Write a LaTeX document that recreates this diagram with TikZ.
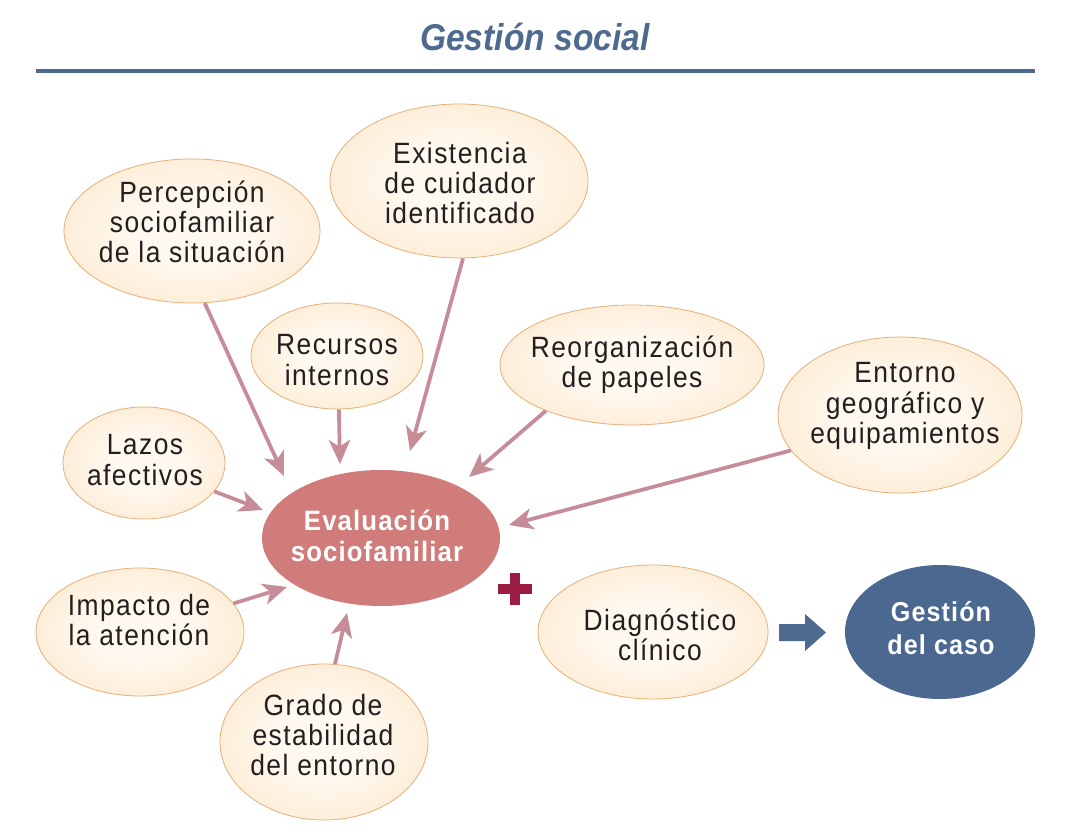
\documentclass[tikz,border=0pt]{standalone}
\usepackage{fontspec}
\setmainfont{Liberation Sans}
\newfontfamily\bodyfont{Liberation Sans}[FakeStretch=0.9,LetterSpace=5]
\newfontfamily\boldbody{Liberation Sans}[FakeStretch=0.92,LetterSpace=4]
\newfontfamily\titlefont{Liberation Sans}[FakeStretch=0.9]
\usetikzlibrary{shapes.geometric,arrows.meta}
\definecolor{titleblue}{HTML}{4F6A8F}
\definecolor{peachin}{HTML}{FFF8EE}
\definecolor{peachmid}{HTML}{FCE9CF}
\definecolor{peachout}{HTML}{F9D6A6}
\definecolor{peachline}{HTML}{E6B078}
\definecolor{evalred}{HTML}{CF7C7B}
\definecolor{casoblue}{HTML}{4A6890}
\definecolor{arrowpink}{HTML}{C68C98}
\definecolor{plusred}{HTML}{9C1C43}
\definecolor{textdark}{HTML}{231F20}
\pgfdeclareradialshading{bubshade}{\pgfpoint{0bp}{0bp}}{color(0bp)=(peachin); color(12bp)=(peachin); color(32bp)=(peachmid); color(50bp)=(peachout); color(75bp)=(peachout)}
\begin{document}
\begin{tikzpicture}[x=0.75pt,y=-0.75pt,
  bubble/.style={ellipse, draw=peachline, line width=0.6pt, shading=bubshade, inner sep=0pt},
  keybubble/.style={ellipse, draw=none, inner sep=0pt},
  btext/.style={align=center, text=textdark, inner sep=0pt, font=\bodyfont\fontsize{22}{22.6}\selectfont},
  ktext/.style={align=center, text=white, inner sep=0pt, font=\boldbody\bfseries\fontsize{21}{23.5}\selectfont},
  conn/.style={draw=arrowpink, line width=2.8pt,
    -{Stealth[length=18pt, width=16pt, inset=5pt]}},
  sz/.style n args={2}{minimum width=#1pt, minimum height=#2pt}
]
\fill[white] (0,0) rectangle (1066,837);
\useasboundingbox (0,0) rectangle (1066,837);

% title
\node[text=titleblue, font=\titlefont\bfseries\itshape\fontsize{28}{30}\selectfont] (title) at (535,37) {Gestión social};
\draw[titleblue, line width=3pt] (36,71) -- (1035,71);

% bubbles
\node[bubble, sz={192}{108}] (perc) at (192,231) {};
\node[bubble, sz={193.5}{115.5}] (exist) at (459,181) {};
\node[bubble, sz={129}{79.5}] (recur) at (337,356) {};
\node[bubble, sz={198}{90}] (reorg) at (632,365) {};
\node[bubble, sz={183}{117}] (entor) at (900,415) {};
\node[bubble, sz={121.5}{84}] (lazos) at (144,463) {};
\node[bubble, sz={156}{96}] (impac) at (140,632) {};
\node[bubble, sz={156}{117}] (grado) at (324,742) {};
\node[bubble, sz={172.5}{100.5}] (diag) at (653,632) {};
\node[keybubble, fill=evalred, sz={178.5}{102}] (eval) at (381,538) {};
\node[keybubble, fill=casoblue, sz={142.5}{100.5}] (caso) at (940,632) {};

% texts
\node[btext] (percT) at (192,222) {Percepción\\sociofamiliar\\de la situación};
\node[btext] (existT) at (460,183) {Existencia\\de cuidador\\identificado};
\node[btext] (recurT) at (337,360) {Recursos\\internos};
\node[btext] (reorgT) at (632,365) {Reorganización\\de papeles};
\node[btext] (entorT) at (905,406) {Entorno\\geográfico y\\equipamientos};
\node[btext] (lazosT) at (145,460) {Lazos\\afectivos};
\node[btext] (impacT) at (139,620) {Impacto de\\la atención};
\node[btext] (gradoT) at (323,735) {Grado de\\estabilidad\\del entorno};
\node[btext] (diagT) at (660,635) {Diagnóstico\\clínico};
\node[ktext] (evalT) at (377,536) {Evaluación\\sociofamiliar};
\node[ktext, font=\boldbody\bfseries\fontsize{20.5}{24.5}\selectfont] (casoT) at (941,628) {Gestión\\del caso};

% arrow tips
\coordinate (tA) at (284,476);
\coordinate (tB) at (410,451);
\coordinate (tC) at (340,464);
\coordinate (tD) at (469,477);
\coordinate (tE) at (509,525);
\coordinate (tF) at (263,510);
\coordinate (tG) at (287,587);
\coordinate (tH) at (347,613);

\draw[conn] (perc.-80) -- (tA);
\draw[conn] (exist.-87) -- (tB);
\draw[conn] (recur.-88) -- (tC);
\draw[conn] (reorg.-152) -- (tD);
\draw[conn] (entor.-162) -- (tE);
\draw[conn] (lazos.-22) -- (tF);
\draw[conn] (impac.17) -- (tG);
\draw[conn] (grado.82) -- (tH);

% plus sign
\fill[plusred] (498,584) rectangle (532,594);
\fill[plusred] (510,573) rectangle (520,605);

% block arrow
\fill[titleblue] (779,624) -- (805,624) -- (805,614) -- (826,632.5) -- (805,651) -- (805,641) -- (779,641) -- cycle;
\end{tikzpicture}
\end{document}
